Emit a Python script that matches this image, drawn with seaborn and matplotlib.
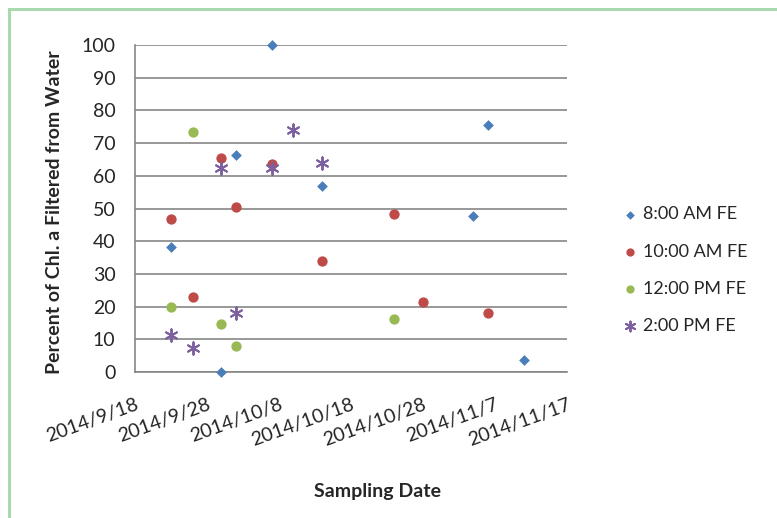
import matplotlib
matplotlib.use("Agg")
import matplotlib.pyplot as plt
import matplotlib.dates as mdates
from matplotlib.patches import Rectangle
import pandas as pd
import seaborn as sns

# Sampling results: percent of chlorophyll a filtered from water, by collection time
series_names = ["8:00 AM FE", "10:00 AM FE", "12:00 PM FE", "2:00 PM FE"]

dates_8am = ["2014-09-23", "2014-09-30", "2014-10-02", "2014-10-07",
             "2014-10-14", "2014-11-04", "2014-11-06", "2014-11-11"]
values_8am = [38.2, 0.0, 66.4, 100.0, 56.9, 47.7, 75.5, 3.7]

dates_10am = ["2014-09-23", "2014-09-26", "2014-09-30", "2014-10-02", "2014-10-07",
              "2014-10-14", "2014-10-24", "2014-10-28", "2014-11-06"]
values_10am = [46.8, 23.0, 65.3, 50.4, 63.6, 33.9, 48.2, 21.5, 18.1]

dates_12pm = ["2014-09-23", "2014-09-26", "2014-09-30", "2014-10-02", "2014-10-24"]
values_12pm = [20.0, 73.3, 14.6, 8.0, 16.1]

dates_2pm = ["2014-09-23", "2014-09-26", "2014-09-30", "2014-10-02",
             "2014-10-07", "2014-10-10", "2014-10-14"]
values_2pm = [11.3, 7.2, 62.5, 17.9, 62.3, 74.0, 63.8]

x_ticks = ["2014-09-18", "2014-09-28", "2014-10-08", "2014-10-18",
           "2014-10-28", "2014-11-07", "2014-11-17"]
y_ticks = list(range(0, 101, 10))

frames = []
for name, d, v in zip(series_names,
                      [dates_8am, dates_10am, dates_12pm, dates_2pm],
                      [values_8am, values_10am, values_12pm, values_2pm]):
    frames.append(pd.DataFrame({"date": pd.to_datetime(d), "value": v, "series": name}))
df = pd.concat(frames, ignore_index=True)

sns.set_theme(style="white")
plt.rcParams["font.family"] = ["Lato", "DejaVu Sans"]

palette = dict(zip(series_names, ["#4a7ebb", "#be4b48", "#98b954", "#7d60a0"]))
markers = dict(zip(series_names, ["D", "o", "o", (6, 2, 0)]))
sizes_pt = {"8:00 AM FE": 30, "10:00 AM FE": 55, "12:00 PM FE": 55, "2:00 PM FE": 80}

fig = plt.figure(figsize=(7.77, 5.18), dpi=100)
ax = fig.add_axes([135 / 777, 1 - 372 / 518, 432 / 777, 327 / 518])

for name in series_names:
    sub = df[df["series"] == name]
    if name == "2:00 PM FE":
        kw = dict(linewidth=1.4, edgecolor=palette[name])
    else:
        kw = dict(linewidth=0)
    sns.scatterplot(data=sub, x="date", y="value", ax=ax, color=palette[name],
                    marker=markers[name], s=sizes_pt[name], label=name,
                    clip_on=False, zorder=3, **kw)

x_tick_dates = pd.to_datetime(x_ticks)
ax.set_xlim(x_tick_dates[0], x_tick_dates[-1])
ax.set_ylim(0, 100)
ax.set_xticks(x_tick_dates)
ax.set_xticklabels([f"{d.year}/{d.month}/{d.day}" for d in x_tick_dates],
                   rotation=20, ha="right", rotation_mode="anchor", fontsize=14)
ax.xaxis.set_minor_locator(mdates.DayLocator(interval=2))
ax.set_yticks(y_ticks)
ax.set_yticklabels([str(t) for t in y_ticks], fontsize=14)
ax.yaxis.set_minor_locator(matplotlib.ticker.MultipleLocator(2))

grey = "#868686"
ax.grid(axis="y", color=grey, linewidth=1.2)
ax.grid(axis="x", visible=False)
ax.set_axisbelow(True)
for side in ["top", "right"]:
    ax.spines[side].set_visible(False)
for side in ["left", "bottom"]:
    ax.spines[side].set_color(grey)
    ax.spines[side].set_linewidth(1.2)

ax.tick_params(axis="x", which="major", direction="out", length=5, color=grey,
               width=1.2, pad=12)
ax.tick_params(axis="x", which="minor", direction="in", length=4, color=grey, width=1)
ax.tick_params(axis="y", which="major", direction="in", length=5, color=grey,
               width=1, pad=14)
ax.tick_params(axis="y", which="minor", direction="in", length=4, color=grey, width=1)

ax.set_xlabel("")
ax.set_ylabel("Percent of Chl. a Filtered from Water", fontsize=14, fontweight="bold")
ax.yaxis.set_label_coords(-0.167, 0.488)
fig.text(378 / 777, 1 - 492 / 518, "Sampling Date", fontsize=14, fontweight="bold",
         ha="center", va="center")

sns.move_legend(ax, loc="upper left", bbox_to_anchor=(605 / 777, 1 - 190 / 518),
                bbox_transform=fig.transFigure, frameon=False, title=None,
                fontsize=13, labelspacing=1.18, handletextpad=0.2,
                handlelength=1.0, markerscale=0.8)

# light green chart frame
fig.patches.append(Rectangle((9 / 777, -0.05), 1.1, 1 - 8.5 / 518 + 0.05,
                             transform=fig.transFigure, fill=False,
                             edgecolor="#a9d9ae", linewidth=2.2))

fig.savefig("out.png", dpi=100)
